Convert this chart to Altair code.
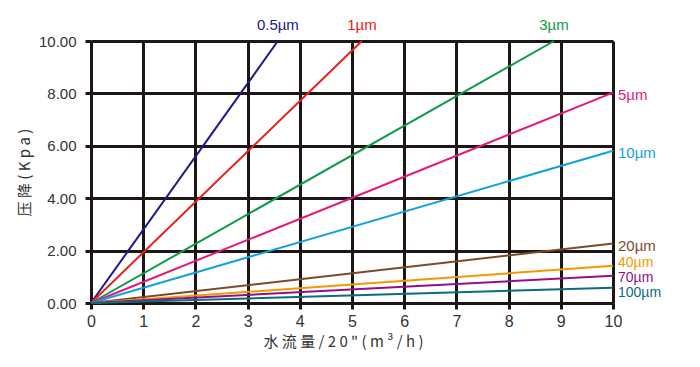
import altair as alt
import pandas as pd

series = ["0.5µm", "1µm", "3µm", "5µm", "10µm", "20µm", "40µm", "70µm", "100µm"]
end_x = [3.58, 5.19, 8.87, 10, 10, 10, 10, 10, 10]
end_y = [10, 10, 10, 8.03, 5.81, 2.27, 1.42, 1.04, 0.58]
colors = ["#1b1a8a", "#e8201c", "#0d9a48", "#e6197a", "#11a0e0",
          "#7c4a2a", "#f39800", "#930f8c", "#0c6c7c"]
x_ticks = list(range(0, 11))
y_ticks = [0, 2, 4, 6, 8, 10]

rows = []
for s, ex, ey in zip(series, end_x, end_y):
    rows.append({"series": s, "x": 0, "y": 0})
    rows.append({"series": s, "x": ex, "y": ey})
lines_df = pd.DataFrame(rows)
ends_df = pd.DataFrame({"series": series, "x": end_x, "y": end_y})

color = alt.Color("series:N", scale=alt.Scale(domain=series, range=colors), legend=None)
xenc = alt.X("x:Q", scale=alt.Scale(domain=[0, 10], nice=False),
             axis=alt.Axis(values=x_ticks, format="d", labelFlush=False,
                           title='水 流 量 / 2 0 "  (  m ³ / h )'))
yenc = alt.Y("y:Q", scale=alt.Scale(domain=[0, 10], nice=False),
             axis=alt.Axis(values=y_ticks, format=".2f", labelFlush=False,
                           title="压 降 ( K p a )"))

lines = alt.Chart(lines_df).mark_line(strokeWidth=2, clip=False).encode(
    x=xenc, y=yenc, color=color, detail="series:N")

base = alt.Chart(ends_df)
text_style = dict(baseline="middle", fontSize=15, font="Liberation Sans")
small_style = dict(baseline="middle", fontSize=14, font="Liberation Sans")

top_labels = base.transform_filter("datum.y >= 10").mark_text(
    align="center", dy=-16, **text_style
).encode(x="x:Q", y="y:Q", text="series:N", color=color)

right_labels = base.transform_filter(
    "datum.y < 10 && datum.series != '40µm' && datum.series != '70µm' && datum.series != '100µm'"
).mark_text(align="left", dx=5, dy=2, **text_style).encode(
    x="x:Q", y="y:Q", text="series:N", color=color)

l40 = base.transform_filter("datum.series == '40µm'").mark_text(
    align="left", dx=5, dy=-3, **small_style).encode(
    x="x:Q", y="y:Q", text="series:N", color=color)
l70 = base.transform_filter("datum.series == '70µm'").mark_text(
    align="left", dx=5, dy=2, **small_style).encode(
    x="x:Q", y="y:Q", text="series:N", color=color)
l100 = base.transform_filter("datum.series == '100µm'").mark_text(
    align="left", dx=5, dy=5, **small_style).encode(
    x="x:Q", y="y:Q", text="series:N", color=color)

chart = alt.layer(lines, top_labels, right_labels, l40, l70, l100).properties(
    width=522, height=262,
    autosize=alt.AutoSizeParams(type="none"),
    padding={"left": 83, "top": 33, "right": 77, "bottom": 56},
).configure_view(stroke=None).configure_axis(
    grid=True, gridColor="#1e1614", gridWidth=3, gridOpacity=1,
    domainColor="#1e1614", domainWidth=3,
    tickColor="#1e1614", tickWidth=3, tickSize=6,
    labelFont="Liberation Sans", labelColor="#333333",
    titleFont="Noto Sans CJK SC", titleFontSize=15, titleFontWeight="normal",
    titleColor="#333333",
).configure_axisY(labelFontSize=15, labelPadding=9, titlePadding=6).configure_axisX(
    labelFontSize=16, labelPadding=4, titlePadding=5, titleX=252)

chart.save("out.html", embed_options={"renderer": "svg", "actions": False})
